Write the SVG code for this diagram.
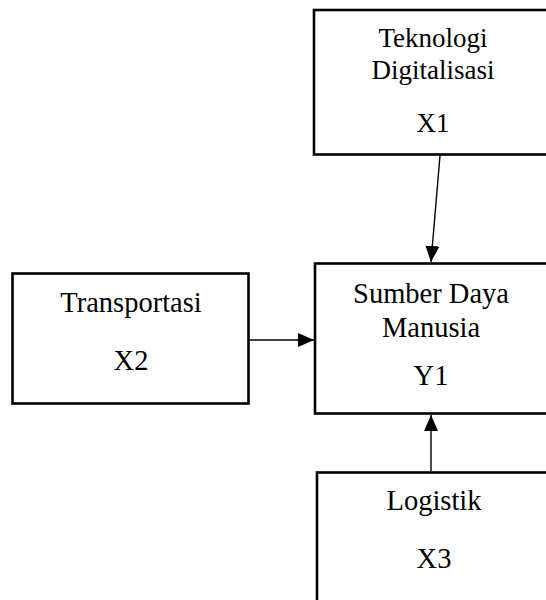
<svg xmlns="http://www.w3.org/2000/svg" width="546" height="600" viewBox="0 0 546 600">
<style>
.box{fill:#fff;stroke:#000;stroke-width:2.6}
.t{font-family:"Liberation Serif","Times New Roman",serif;fill:#000;text-anchor:middle}
.edge{stroke:#000;stroke-width:1.4;fill:none}
</style>
<defs>
<marker id="ah" viewBox="0 0 16 14" refX="16" refY="7" markerWidth="16" markerHeight="14" markerUnits="userSpaceOnUse" orient="auto">
<path d="M0,0 L16,7 L0,14 Z" fill="#000"/>
</marker>
</defs>
<g id="x1">
<rect class="box" x="314" y="10" width="260" height="144.5"/>
<text class="t" x="433" y="47" font-size="27">Teknologi</text>
<text class="t" x="433" y="79" font-size="27">Digitalisasi</text>
<text class="t" x="433" y="132" font-size="27">X1</text>
</g>
<g id="y1">
<rect class="box" x="315" y="263.5" width="260" height="150"/>
<text class="t" x="431" y="303" font-size="28.5">Sumber Daya</text>
<text class="t" x="431" y="337" font-size="28.5">Manusia</text>
<text class="t" x="431" y="385" font-size="28.5">Y1</text>
</g>
<g id="x2">
<rect class="box" x="12.5" y="273.5" width="236" height="130"/>
<text class="t" x="131" y="312" font-size="28.5">Transportasi</text>
<text class="t" x="131" y="370" font-size="28.5">X2</text>
</g>
<g id="x3">
<rect class="box" x="317" y="472.5" width="260" height="160"/>
<text class="t" x="434" y="510" font-size="28.5">Logistik</text>
<text class="t" x="434" y="568" font-size="28.5">X3</text>
</g>
<g id="connectors">
<line class="edge" x1="440" y1="155.5" x2="431" y2="262" marker-end="url(#ah)"/>
<line class="edge" x1="249.5" y1="340" x2="314" y2="340" marker-end="url(#ah)"/>
<line class="edge" x1="431" y1="471" x2="431" y2="415" marker-end="url(#ah)"/>
</g>
</svg>
